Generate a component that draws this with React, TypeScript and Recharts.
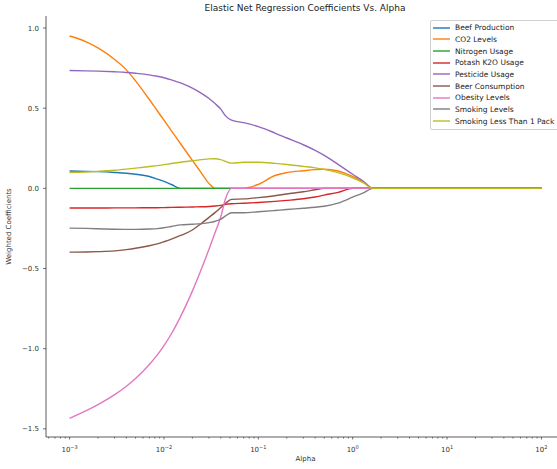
import React from 'react';
import { LineChart, Line, XAxis, YAxis } from 'recharts';

// alpha values along the path (log spaced in the original plot)
const alphas = [0.001, 0.0015, 0.002, 0.003, 0.004, 0.005, 0.007, 0.0085, 0.01, 0.012, 0.015, 0.02, 0.025, 0.03, 0.035, 0.04, 0.045, 0.052, 0.07, 0.1, 0.15, 0.2, 0.3, 0.4, 0.5, 0.7, 1.0, 1.3, 1.65, 100];

const beefProduction = [0.108, 0.106, 0.104, 0.099, 0.094, 0.088, 0.074, 0.058, 0.044, 0.024, 0, 0, 0, 0, 0, 0, 0, 0, 0, 0, 0, 0, 0, 0, 0, 0, 0, 0, 0, 0];
const co2Levels = [0.95, 0.914, 0.876, 0.804, 0.739, 0.67, 0.554, 0.484, 0.425, 0.359, 0.278, 0.175, 0.095, 0.031, 0, 0, 0, 0, 0, 0.025, 0.08, 0.098, 0.11, 0.117, 0.119, 0.108, 0.074, 0.038, 0, 0];
const nitrogenUsage = [0, 0, 0, 0, 0, 0, 0, 0, 0, 0, 0, 0, 0, 0, 0, 0, 0, 0, 0, 0, 0, 0, 0, 0, 0, 0, 0, 0, 0, 0];
const potashUsage = [-0.123, -0.123, -0.123, -0.122, -0.122, -0.122, -0.121, -0.121, -0.12, -0.119, -0.118, -0.116, -0.115, -0.113, -0.11, -0.106, -0.1, -0.096, -0.093, -0.088, -0.081, -0.075, -0.065, -0.054, -0.042, -0.025, 0, 0, 0, 0];
const pesticideUsage = [0.735, 0.733, 0.731, 0.727, 0.723, 0.718, 0.708, 0.699, 0.69, 0.677, 0.658, 0.625, 0.592, 0.56, 0.527, 0.494, 0.452, 0.425, 0.41, 0.385, 0.345, 0.314, 0.272, 0.237, 0.206, 0.15, 0.088, 0.044, 0, 0];
const beerConsumption = [-0.398, -0.397, -0.395, -0.39, -0.382, -0.374, -0.358, -0.346, -0.333, -0.317, -0.294, -0.26, -0.218, -0.181, -0.15, -0.12, -0.093, -0.069, -0.066, -0.058, -0.046, -0.035, -0.021, -0.009, 0, 0, 0, 0, 0, 0];
const obesityLevels = [-1.435, -1.387, -1.349, -1.287, -1.234, -1.186, -1.099, -1.039, -0.981, -0.907, -0.8, -0.641, -0.502, -0.38, -0.273, -0.178, -0.063, 0, 0, 0, 0, 0, 0, 0, 0, 0, 0, 0, 0, 0];
const smokingLevels = [-0.248, -0.25, -0.252, -0.255, -0.256, -0.256, -0.254, -0.251, -0.246, -0.238, -0.228, -0.224, -0.22, -0.214, -0.205, -0.192, -0.172, -0.152, -0.152, -0.146, -0.138, -0.132, -0.124, -0.118, -0.112, -0.092, -0.055, -0.028, 0, 0];
const smokingLessThan1Pack = [0.098, 0.102, 0.106, 0.113, 0.12, 0.126, 0.136, 0.142, 0.148, 0.155, 0.163, 0.172, 0.179, 0.184, 0.185, 0.179, 0.168, 0.157, 0.163, 0.163, 0.156, 0.149, 0.137, 0.128, 0.118, 0.098, 0.066, 0.034, 0, 0];

const seriesNames = ['Beef Production', 'CO2 Levels', 'Nitrogen Usage', 'Potash K2O Usage', 'Pesticide Usage', 'Beer Consumption', 'Obesity Levels', 'Smoking Levels', 'Smoking Less Than 1 Pack'];
const seriesValues = [beefProduction, co2Levels, nitrogenUsage, potashUsage, pesticideUsage, beerConsumption, obesityLevels, smokingLevels, smokingLessThan1Pack];
const colors = ['#1f77b4', '#ff7f0e', '#2ca02c', '#d62728', '#9467bd', '#8c564b', '#e377c2', '#7f7f7f', '#bcbd22'];

const majorTicks = [0.001, 0.01, 0.1, 1, 10, 100];
const yTicks = [-1.5, -1.0, -0.5, 0.0, 0.5, 1.0];

const X_DOMAIN = [Math.pow(10, -3.25), Math.pow(10, 2.25)];
const Y_DOMAIN = [-1.551, 1.075];

const data = alphas.map((a, i) => {
  const row: any = { alpha: a };
  seriesNames.forEach((name, s) => {
    row[name] = seriesValues[s][i];
  });
  return row;
});

// minor ticks 2..9 in each decade, kept inside the axis range
const minorTicks: number[] = [];
for (let e = -4; e <= 2; e++) {
  for (let m = 2; m <= 9; m++) {
    const v = m * Math.pow(10, e);
    if (v > X_DOMAIN[0] && v < X_DOMAIN[1]) minorTicks.push(v);
  }
}
const xTicks = [...majorTicks, ...minorTicks].sort((a, b) => a - b);

const FONT = '"DejaVu Sans", sans-serif';
const INK = '#333';

const XTick = (props: any) => {
  const { x, y, payload } = props;
  const lg = Math.log10(payload.value);
  const exp = Math.round(lg);
  const major = Math.abs(lg - exp) < 1e-6;
  return (
    <g>
      <line x1={x} x2={x} y1={y} y2={y + (major ? 2.5 : 1.5)} stroke={INK} strokeWidth={0.7} />
      {major && (
        <text x={x} y={y + 14.5} textAnchor="middle" fontSize={7} fill={INK} fontFamily={FONT}>
          10
          <tspan dy={-3} fontSize={5}>{exp < 0 ? '\u2212' + -exp : String(exp)}</tspan>
        </text>
      )}
    </g>
  );
};

const fmtY = (v: number) => (v < 0 ? '\u2212' + Math.abs(v).toFixed(1) : v.toFixed(1));

const App: React.FC = () => {
  return (
    <div style={{ position: 'fixed', left: 0, top: 0, width: 557, height: 469, overflow: 'hidden', background: '#fff', fontFamily: FONT }}>
      <div style={{ position: 'absolute', left: 0, top: 3, width: 610, textAlign: 'center', fontSize: 9, lineHeight: '11px', color: '#222' }}>
        Elastic Net Regression Coefficients Vs. Alpha
      </div>
      <LineChart width={580} height={469} data={data} margin={{ top: 16, right: 15, left: 0, bottom: 0 }}>
        <XAxis
          xAxisId="top"
          orientation="top"
          type="number"
          domain={[0, 1]}
          height={0}
          tick={false}
          tickLine={false}
          axisLine={{ stroke: INK, strokeWidth: 0.8 }}
        />
        <XAxis
          dataKey="alpha"
          type="number"
          scale="log"
          domain={X_DOMAIN}
          allowDataOverflow
          ticks={xTicks}
          interval={0}
          tick={<XTick />}
          tickLine={false}
          tickSize={0}
          tickMargin={0}
          height={32}
          axisLine={{ stroke: INK, strokeWidth: 0.8 }}
          label={{ value: 'Alpha', position: 'insideBottom', offset: 8, fontSize: 7, fill: INK, fontFamily: FONT }}
        />
        <YAxis
          type="number"
          domain={Y_DOMAIN}
          allowDataOverflow
          ticks={yTicks}
          interval={0}
          width={46}
          tickSize={3}
          tickMargin={4}
          tickFormatter={fmtY}
          tick={{ fontSize: 7, fill: INK, fontFamily: FONT }}
          tickLine={{ stroke: INK, strokeWidth: 0.7 }}
          axisLine={{ stroke: INK, strokeWidth: 0.8 }}
          label={{ value: 'Weighted Coefficients', angle: -90, position: 'insideLeft', offset: 9, fontSize: 7, fill: INK, fontFamily: FONT, style: { textAnchor: 'middle' } }}
        />
        {seriesNames.map((name, i) => (
          <Line
            key={name}
            xAxisId={0}
            dataKey={name}
            type="monotone"
            stroke={colors[i]}
            strokeWidth={1.4}
            dot={false}
            isAnimationActive={false}
          />
        ))}
      </LineChart>
      <div
        style={{
          position: 'absolute',
          left: 430,
          top: 20,
          padding: '1px 30px 2px 2px',
          border: '1px solid #d0d0d0',
          borderRadius: 2,
          background: 'rgba(255,255,255,0.8)',
          fontSize: 7.5,
          color: '#222',
          whiteSpace: 'nowrap',
        }}
      >
        {seriesNames.map((name, i) => (
          <div key={name} style={{ display: 'flex', alignItems: 'center', height: 11.67 }}>
            <svg width={17} height={4} style={{ marginRight: 5, flexShrink: 0 }}>
              <line x1={0} x2={17} y1={2} y2={2} stroke={colors[i]} strokeWidth={1.4} />
            </svg>
            <span>{name}</span>
          </div>
        ))}
      </div>
    </div>
  );
};

export default App;
